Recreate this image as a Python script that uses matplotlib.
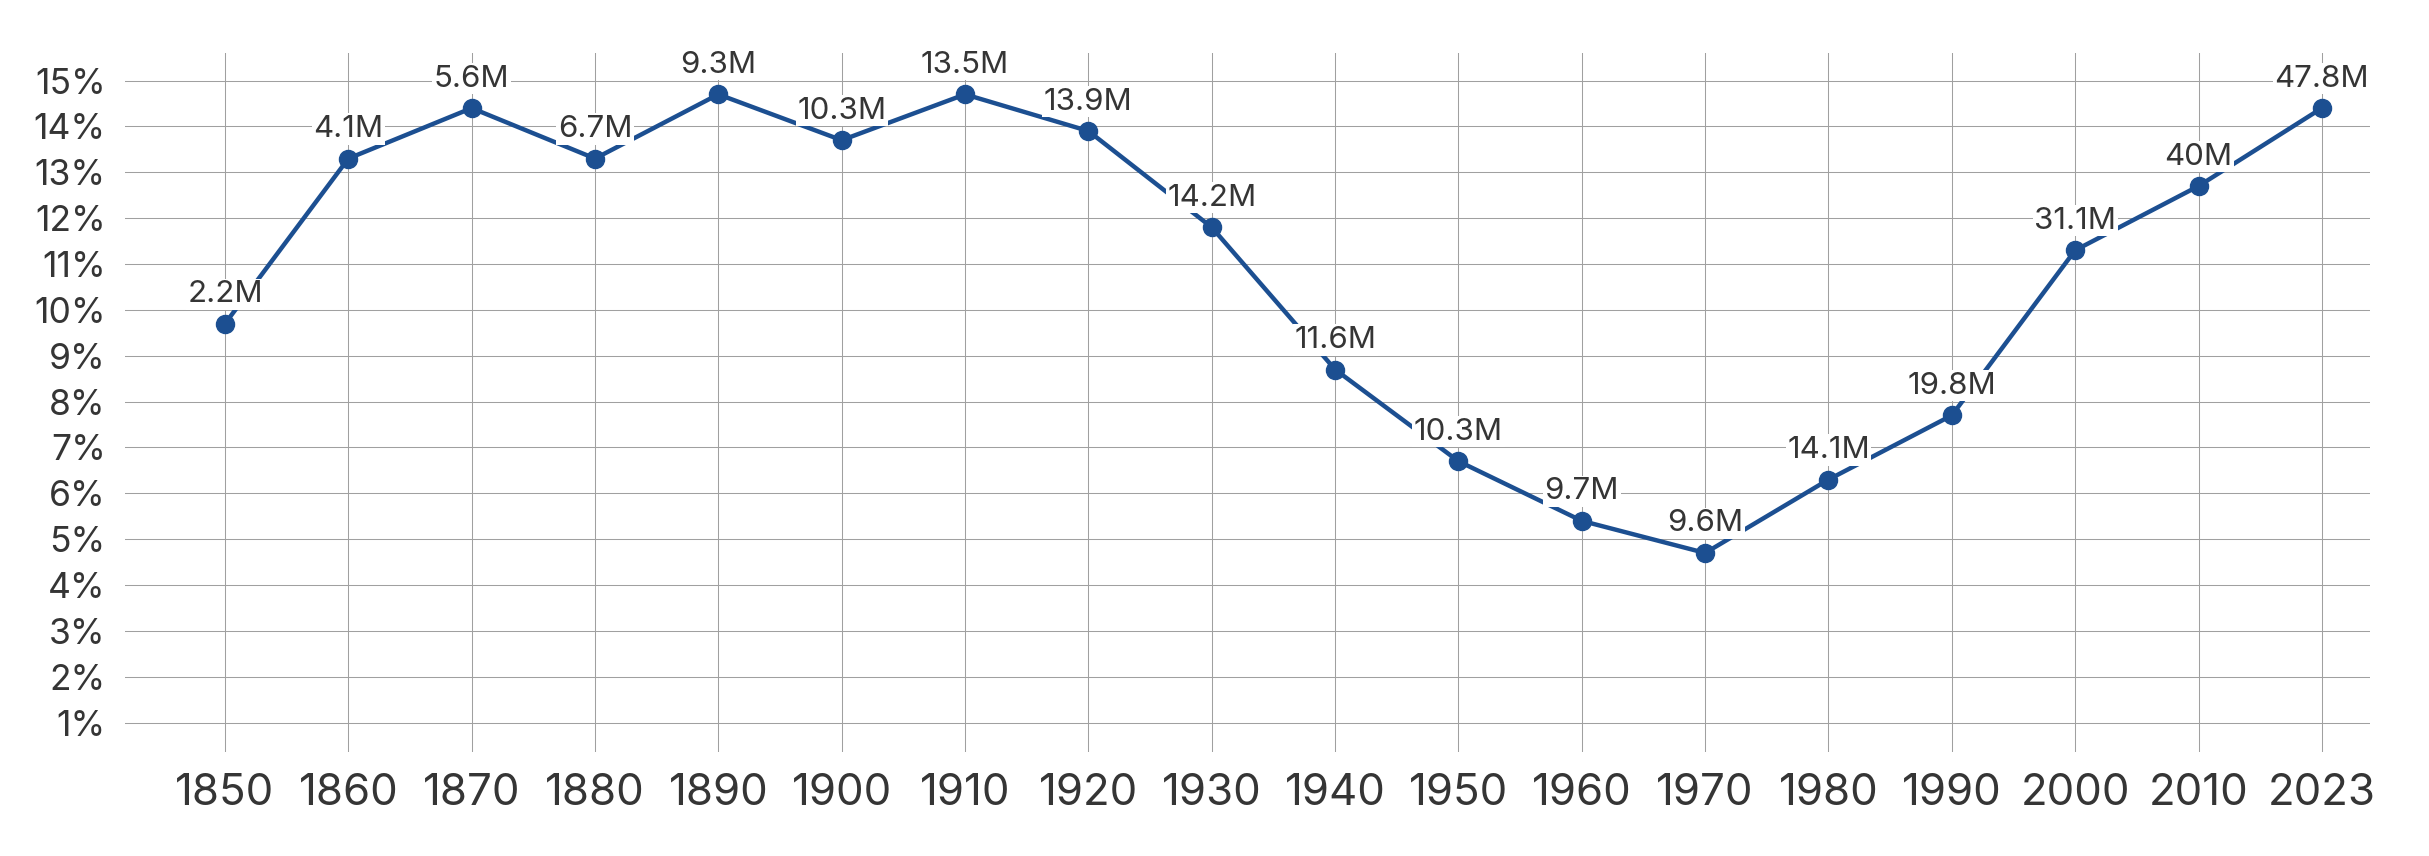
import matplotlib
matplotlib.use('Agg')
import matplotlib.pyplot as plt

# census years and share of foreign-born population (%)
years = ['1850', '1860', '1870', '1880', '1890', '1900', '1910', '1920', '1930',
         '1940', '1950', '1960', '1970', '1980', '1990', '2000', '2010', '2023']
share = [9.7, 13.3, 14.4, 13.3, 14.7, 13.7, 14.7, 13.9, 11.8,
         8.7, 6.7, 5.4, 4.7, 6.3, 7.7, 11.3, 12.7, 14.4]
# number of foreign-born people for each point
counts = ['2.2M', '4.1M', '5.6M', '6.7M', '9.3M', '10.3M', '13.5M', '13.9M', '14.2M',
          '11.6M', '10.3M', '9.7M', '9.6M', '14.1M', '19.8M', '31.1M', '40M', '47.8M']
y_ticks = list(range(1, 16))

line_color = '#1c4f91'
text_color = '#353535'
grid_color = '#a0a0a0'

plt.rcParams['font.family'] = ['Inter', 'DejaVu Sans']

fig = plt.figure(figsize=(24.29, 8.56), dpi=100)
ax = fig.add_axes([0.0515, 0.1215, 0.9242, 0.8165])

x = list(range(len(years)))
ax.plot(x, share, color=line_color, linewidth=3.2, marker='o', markersize=13, zorder=3)

# value labels on a white box so they cut through the line and grid
for xi, yi, lab in zip(x, share, counts):
    ax.annotate(lab, (xi, yi), xytext=(0, 15.5), textcoords='offset points',
                ha='center', va='baseline', fontsize=22.5, color=text_color, zorder=4,
                bbox=dict(boxstyle='square,pad=0.05', facecolor='white', edgecolor='none'))

ax.set_xlim(-0.81, 17.39)
ax.set_ylim(0.36, 15.6)
ax.set_xticks(x)
ax.set_xticklabels(years)
ax.set_yticks(y_ticks)
ax.set_yticklabels([f'{t}%' for t in y_ticks])

ax.grid(True, color=grid_color, linewidth=0.75)
ax.set_axisbelow(True)
for s in ax.spines.values():
    s.set_visible(False)
ax.tick_params(axis='both', length=0, colors=text_color)
ax.tick_params(axis='y', labelsize=25.5, pad=14)
ax.tick_params(axis='x', labelsize=31.5, pad=15)

fig.savefig('out.png', dpi=100, facecolor='white')
